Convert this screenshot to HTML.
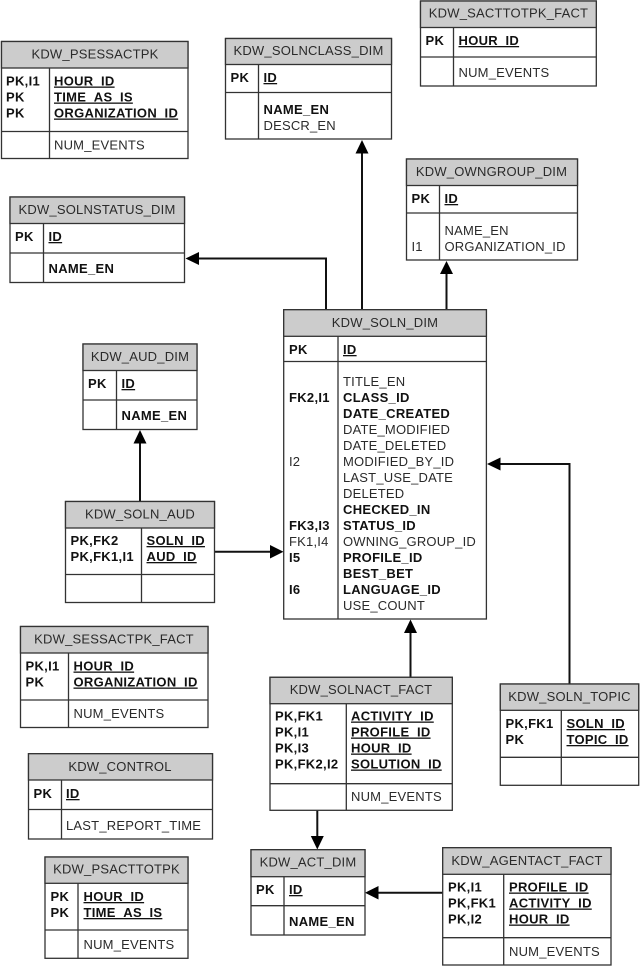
<!DOCTYPE html>
<html><head><meta charset="utf-8"><title>ER diagram</title>
<style>
html,body{margin:0;padding:0;background:#fff}
svg{display:block}
text{font-family:"Liberation Sans",Arial,sans-serif;font-size:13px;fill:#2a2a2a;letter-spacing:.2px}
.b{font-weight:bold;fill:#111;letter-spacing:.3px}
.u{font-weight:bold;fill:#111;text-decoration:underline;letter-spacing:.3px}
.t{text-anchor:middle}
.h{fill:#ccc;stroke:#333;stroke-width:1.3}
.r{fill:#fff;stroke:#333;stroke-width:1.3}
.l{fill:none;stroke:#333;stroke-width:1.3}
.c{fill:none;stroke:#111;stroke-width:2}
.a{fill:#000}
</style></head><body>
<svg width="640" height="966" viewBox="0 0 640 966" xmlns="http://www.w3.org/2000/svg">

<!-- connectors -->
<path class="c" d="M326 309V258.5H198"/><path class="a" d="M185.5 258.5L199 252V265Z"/>
<path class="c" d="M362 309V152"/><path class="a" d="M362 140L355.5 153.5H368.5Z"/>
<path class="c" d="M446.5 309V273"/><path class="a" d="M446.5 261L440 274H453Z"/>
<path class="c" d="M140 501.5V442"/><path class="a" d="M140 430L133.500 443.500H146.500Z"/>
<path class="c" d="M215 551.700H271"/><path class="a" d="M283.500 551.700L270 545V558.500Z"/>
<path class="c" d="M569.500 684V464H499"/><path class="a" d="M487 464L500.500 457.500V470.500Z"/>
<path class="c" d="M410.500 677V632"/><path class="a" d="M410.500 619.500L404 633H417Z"/>
<path class="c" d="M317.300 810V837"/><path class="a" d="M317.300 849.500L310.800 836H323.800Z"/>
<path class="c" d="M443 892.700H377"/><path class="a" d="M365 892.700L378.500 886V899.500Z"/>

<!-- KDW_PSESSACTPK -->
<rect class="r" x="1.500" y="41.500" width="186.500" height="117"/><rect class="h" x="1.500" y="41.500" width="186.500" height="26.500"/>
<path class="l" d="M49.500 68V158.500M1.500 131.500H188"/>
<text class="t" x="95" y="58.300">KDW_PSESSACTPK</text>
<text class="b" x="6" y="85.500">PK,I1</text><text class="b" x="6" y="101.500">PK</text><text class="b" x="6" y="117.500">PK</text>
<text class="u" x="54" y="85.500">HOUR_ID</text><text class="u" x="54" y="101.500">TIME_AS_IS</text><text class="u" x="54" y="117.500">ORGANIZATION_ID</text>
<text x="54" y="149.500">NUM_EVENTS</text>

<!-- KDW_SOLNCLASS_DIM -->
<rect class="r" x="225.500" y="38.500" width="166" height="100.500"/><rect class="h" x="225.500" y="38.500" width="166" height="26"/>
<path class="l" d="M258.500 64.500V139M225.500 92.500H391.500"/>
<text class="t" x="308.500" y="54.800">KDW_SOLNCLASS_DIM</text>
<text class="b" x="230.500" y="82">PK</text>
<text class="u" x="263.500" y="82">ID</text>
<text class="b" x="263.500" y="114">NAME_EN</text><text x="263.500" y="130">DESCR_EN</text>

<!-- KDW_SACTTOTPK_FACT -->
<rect class="r" x="420.500" y="1" width="175.800" height="85"/><rect class="h" x="420.500" y="1" width="175.800" height="26.500"/>
<path class="l" d="M453.500 27.500V86M420.500 57H596.300"/>
<text class="t" x="508.500" y="17.300">KDW_SACTTOTPK_FACT</text>
<text class="b" x="425.500" y="45">PK</text><text class="u" x="458.500" y="45">HOUR_ID</text>
<text x="458.500" y="77">NUM_EVENTS</text>

<!-- KDW_OWNGROUP_DIM -->
<rect class="r" x="406.500" y="159" width="171" height="101"/><rect class="h" x="406.500" y="159" width="171" height="26.500"/>
<path class="l" d="M439.500 185.500V260M406.500 213H577.500"/>
<text class="t" x="491.500" y="176">KDW_OWNGROUP_DIM</text>
<text class="b" x="411.500" y="203">PK</text><text class="u" x="444.500" y="203">ID</text>
<text x="444.500" y="235">NAME_EN</text><text x="411.500" y="251">I1</text><text x="444.500" y="251">ORGANIZATION_ID</text>

<!-- KDW_SOLNSTATUS_DIM -->
<rect class="r" x="10" y="197" width="174.500" height="85.500"/><rect class="h" x="10" y="197" width="174.500" height="26.500"/>
<path class="l" d="M43.500 223.500V282.500M10 253H184.500"/>
<text class="t" x="97" y="214">KDW_SOLNSTATUS_DIM</text>
<text class="b" x="15" y="241">PK</text><text class="u" x="48.500" y="241">ID</text>
<text class="b" x="48.500" y="273">NAME_EN</text>

<!-- KDW_SOLN_DIM -->
<rect class="r" x="283.700" y="309.700" width="202.700" height="309.300"/><rect class="h" x="283.700" y="309.700" width="202.700" height="26.600"/>
<path class="l" d="M338 336.300V619M283.700 361.500H486.400"/>
<text class="t" x="385" y="327">KDW_SOLN_DIM</text>
<text class="b" x="289" y="354">PK</text><text class="u" x="343" y="354">ID</text>
<text x="343" y="386">TITLE_EN</text>
<text class="b" x="289" y="402">FK2,I1</text><text class="b" x="343" y="402">CLASS_ID</text>
<text class="b" x="343" y="418">DATE_CREATED</text>
<text x="343" y="434">DATE_MODIFIED</text>
<text x="343" y="450">DATE_DELETED</text>
<text x="289" y="466">I2</text><text x="343" y="466">MODIFIED_BY_ID</text>
<text x="343" y="482">LAST_USE_DATE</text>
<text x="343" y="498">DELETED</text>
<text class="b" x="343" y="514">CHECKED_IN</text>
<text class="b" x="289" y="530">FK3,I3</text><text class="b" x="343" y="530">STATUS_ID</text>
<text x="289" y="546">FK1,I4</text><text x="343" y="546">OWNING_GROUP_ID</text>
<text class="b" x="289" y="562">I5</text><text class="b" x="343" y="562">PROFILE_ID</text>
<text class="b" x="343" y="578">BEST_BET</text>
<text class="b" x="289" y="594">I6</text><text class="b" x="343" y="594">LANGUAGE_ID</text>
<text x="343" y="610">USE_COUNT</text>

<!-- KDW_AUD_DIM -->
<rect class="r" x="83" y="344" width="114" height="85.500"/><rect class="h" x="83" y="344" width="114" height="26.500"/>
<path class="l" d="M116.500 370.500V429.500M83 400H197"/>
<text class="t" x="140" y="361">KDW_AUD_DIM</text>
<text class="b" x="88" y="388">PK</text><text class="u" x="121.500" y="388">ID</text>
<text class="b" x="121.500" y="420">NAME_EN</text>

<!-- KDW_SOLN_AUD -->
<rect class="r" x="65.500" y="501.500" width="149" height="101"/><rect class="h" x="65.500" y="501.500" width="149" height="26.500"/>
<path class="l" d="M141.500 528V602.500M65.500 574.500H214.500"/>
<text class="t" x="140" y="518.300">KDW_SOLN_AUD</text>
<text class="b" x="70.500" y="545">PK,FK2</text><text class="b" x="70.500" y="561">PK,FK1,I1</text>
<text class="u" x="146.500" y="545">SOLN_ID</text><text class="u" x="146.500" y="561">AUD_ID</text>

<!-- KDW_SESSACTPK_FACT -->
<rect class="r" x="20.500" y="626.500" width="187.500" height="101"/><rect class="h" x="20.500" y="626.500" width="187.500" height="26.500"/>
<path class="l" d="M68.500 653V727.500M20.500 700H208"/>
<text class="t" x="114" y="643.300">KDW_SESSACTPK_FACT</text>
<text class="b" x="25.500" y="670.500">PK,I1</text><text class="b" x="25.500" y="686.500">PK</text>
<text class="u" x="73.500" y="670.500">HOUR_ID</text><text class="u" x="73.500" y="686.500">ORGANIZATION_ID</text>
<text x="73.500" y="718">NUM_EVENTS</text>

<!-- KDW_CONTROL -->
<rect class="r" x="28.500" y="753.700" width="184" height="85.300"/><rect class="h" x="28.500" y="753.700" width="184" height="26.300"/>
<path class="l" d="M61.500 780V839M28.500 809.500H212.500"/>
<text class="t" x="120" y="771">KDW_CONTROL</text>
<text class="b" x="33.500" y="798">PK</text><text class="u" x="66" y="798">ID</text>
<text x="66" y="830">LAST_REPORT_TIME</text>

<!-- KDW_PSACTTOTPK -->
<rect class="r" x="45" y="857" width="143" height="101.300"/><rect class="h" x="45" y="857" width="143" height="26.300"/>
<path class="l" d="M78 883.300V958.300M45 930H188"/>
<text class="t" x="116.500" y="873.300">KDW_PSACTTOTPK</text>
<text class="b" x="50.500" y="901">PK</text><text class="b" x="50.500" y="917">PK</text>
<text class="u" x="83.500" y="901">HOUR_ID</text><text class="u" x="83.500" y="917">TIME_AS_IS</text>
<text x="83.500" y="949">NUM_EVENTS</text>

<!-- KDW_SOLNACT_FACT -->
<rect class="r" x="270" y="677.300" width="182.300" height="133"/><rect class="h" x="270" y="677.300" width="182.300" height="26.400"/>
<path class="l" d="M346.300 703.700V810.300M270 783.700H452.300"/>
<text class="t" x="361" y="694">KDW_SOLNACT_FACT</text>
<text class="b" x="275" y="720.500">PK,FK1</text><text class="b" x="275" y="736.500">PK,I1</text><text class="b" x="275" y="752.500">PK,I3</text><text class="b" x="275" y="768.500">PK,FK2,I2</text>
<text class="u" x="351" y="720.500">ACTIVITY_ID</text><text class="u" x="351" y="736.500">PROFILE_ID</text><text class="u" x="351" y="752.500">HOUR_ID</text><text class="u" x="351" y="768.500">SOLUTION_ID</text>
<text x="351" y="801">NUM_EVENTS</text>

<!-- KDW_ACT_DIM -->
<rect class="r" x="251" y="849.700" width="114" height="85.300"/><rect class="h" x="251" y="849.700" width="114" height="27"/>
<path class="l" d="M284 876.700V935M251 905.700H365"/>
<text class="t" x="308" y="866.300">KDW_ACT_DIM</text>
<text class="b" x="256" y="894">PK</text><text class="u" x="289" y="894">ID</text>
<text class="b" x="289" y="926">NAME_EN</text>

<!-- KDW_SOLN_TOPIC -->
<rect class="r" x="500.300" y="684" width="138.400" height="101.300"/><rect class="h" x="500.300" y="684" width="138.400" height="26.300"/>
<path class="l" d="M561.300 710.300V785.300M500.300 757.300H638.700"/>
<text class="t" x="569.500" y="701">KDW_SOLN_TOPIC</text>
<text class="b" x="505.500" y="728">PK,FK1</text><text class="b" x="505.500" y="744">PK</text>
<text class="u" x="566.500" y="728">SOLN_ID</text><text class="u" x="566.500" y="744">TOPIC_ID</text>

<!-- KDW_AGENTACT_FACT -->
<rect class="r" x="442.700" y="847.700" width="168.300" height="117.300"/><rect class="h" x="442.700" y="847.700" width="168.300" height="26.600"/>
<path class="l" d="M503.700 874.300V965M442.700 937.700H611"/>
<text class="t" x="527" y="865">KDW_AGENTACT_FACT</text>
<text class="b" x="448" y="891.500">PK,I1</text><text class="b" x="448" y="907.500">PK,FK1</text><text class="b" x="448" y="923.500">PK,I2</text>
<text class="u" x="509" y="891.500">PROFILE_ID</text><text class="u" x="509" y="907.500">ACTIVITY_ID</text><text class="u" x="509" y="923.500">HOUR_ID</text>
<text x="509" y="956">NUM_EVENTS</text>
</svg>
</body></html>
